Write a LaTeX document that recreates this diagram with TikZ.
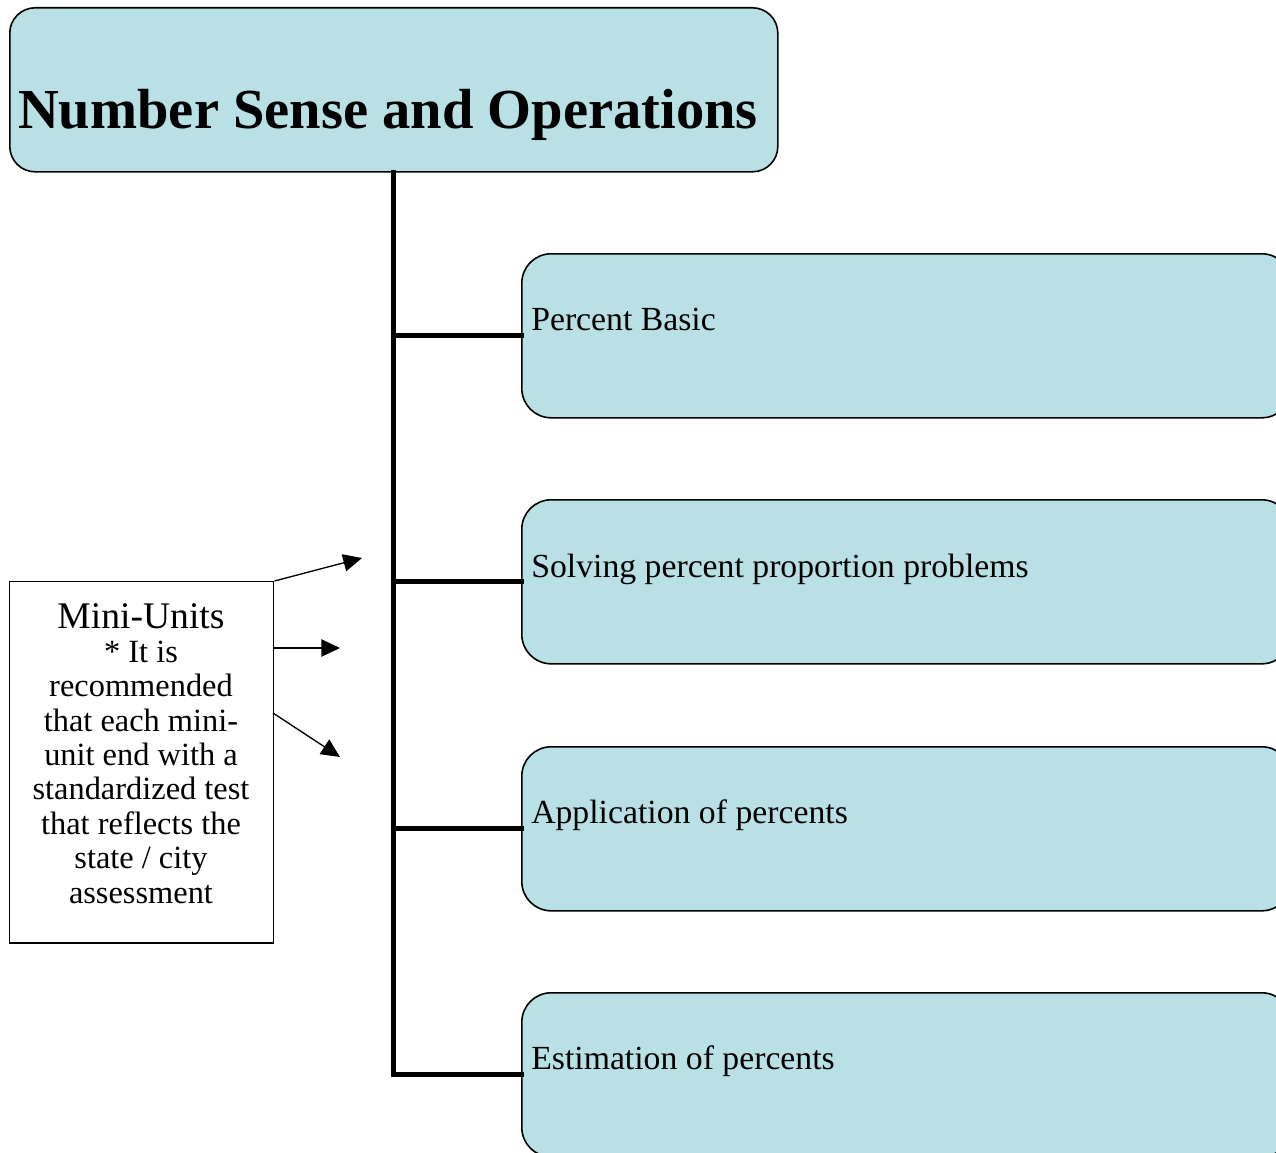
\documentclass[tikz,border=0pt]{standalone}
\usepackage{fontspec}
\setmainfont{Liberation Serif}
\usetikzlibrary{arrows.meta,calc}
\definecolor{boxfill}{RGB}{185,224,228}
\tikzset{
  topbox/.style={draw=black, line width=1.2pt, fill=boxfill, rounded corners=19pt, inner sep=0pt,
    minimum width=576pt, minimum height=123pt, anchor=north west},
  childbox/.style={draw=black, line width=1.2pt, fill=boxfill, rounded corners=22pt, inner sep=0pt,
    minimum width=577pt, minimum height=123pt, anchor=north west},
  childtext/.style={anchor=base west, inner sep=0pt, font=\fontsize{25.3pt}{30pt}\selectfont},
  trunk/.style={line width=3.8pt, line cap=rect},
  minibox/.style={draw=black, line width=1.1pt, fill=white, inner sep=0pt,
    minimum width=198pt, minimum height=271pt, anchor=north west},
  pointer/.style={line width=1pt, -{Triangle[length=14pt,width=13pt]}}
}
\begin{document}
\begin{tikzpicture}[x=0.75pt,y=-0.75pt]
\clip (0,0) rectangle (1276,1152);
\fill[white] (0,0) rectangle (1276,1152);
% top
\node[topbox] (top) at (9,7) {};
\node[anchor=base, inner sep=0pt, font=\bfseries\fontsize{42.4pt}{50pt}\selectfont] (title) at (388,128) {Number Sense and Operations};
% children
\node[childbox] (b1) at (521,253) {};
\node[childbox] (b2) at (521,499) {};
\node[childbox] (b3) at (521,746) {};
\node[childbox] (b4) at (521,992) {};
\node[childtext] (t1) at (531,330) {Percent Basic};
\node[childtext] (t2) at (531,577) {Solving percent proportion problems};
\node[childtext] (t3) at (531,823) {Application of percents};
\node[childtext] (t4) at (531,1069) {Estimation of percents};
% trunk and branches
\draw[trunk] (top.south) -- (top.south |- b4.west) -- (b4.west);
\draw[trunk] (top.south |- b1.west) -- (b1.west);
\draw[trunk] (top.south |- b2.west) -- (b2.west);
\draw[trunk] (top.south |- b3.west) -- (b3.west);
% mini units box
\node[minibox] (mini) at (9,581) {};
\node[align=center, inner sep=0pt, anchor=base, font=\fontsize{24.3pt}{25.8pt}\selectfont] (minitext) at (141,903)
  {{\fontsize{28.2pt}{30pt}\selectfont Mini-Units}\\[-0.6pt]
   * It is\\ recommended\\ that each mini-\\ unit end with a\\ standardized test\\ that reflects the\\ state / city\\ assessment};
\coordinate (p1s) at (mini.north east);
\coordinate (p2s) at (273,648);
\coordinate (p3s) at (273,713);
\coordinate (p1e) at (362,558);
\coordinate (p2e) at (340,648);
\coordinate (p3e) at (340,757);
\draw[pointer] (p1s) -- (p1e);
\draw[pointer] (p2s) -- (p2e);
\draw[pointer] (p3s) -- (p3e);
\end{tikzpicture}
\end{document}
